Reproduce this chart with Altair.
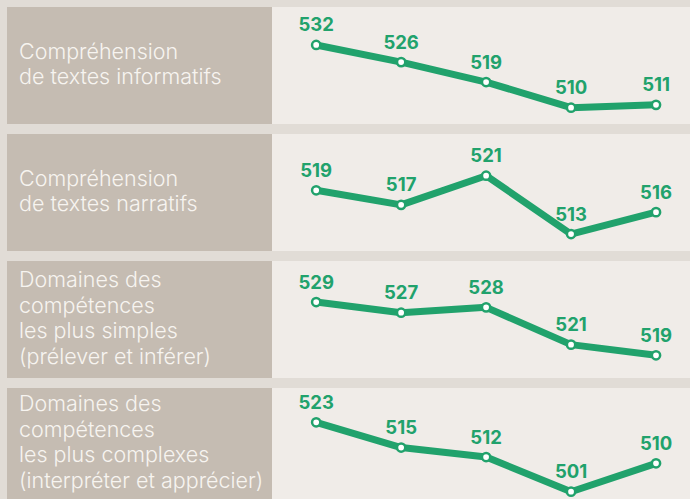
import altair as alt
import pandas as pd

# ---- data ----
categories = [
    "Compréhension\nde textes informatifs",
    "Compréhension\nde textes narratifs",
    "Domaines des\ncompétences\nles plus simples\n(prélever et inférer)",
    "Domaines des\ncompétences\nles plus complexes\n(interpréter et apprécier)",
]
years = [2001, 2006, 2011, 2016, 2021]
scores_informatifs = [532, 526, 519, 510, 511]
scores_narratifs = [519, 517, 521, 513, 516]
scores_simples = [529, 527, 528, 521, 519]
scores_complexes = [523, 515, 512, 501, 510]

series = [scores_informatifs, scores_narratifs, scores_simples, scores_complexes]

# ---- style ----
GREEN = "#21a26c"
LABEL_BG = "#c5bcb2"
PANEL_BG = "#f0ece8"
PAGE_BG = "#e1dcd6"
TEXT_LIGHT = "#f7f4f0"
LINE_H = 25.6

row_heights = [117, 117, 117, 111]
y_domains = [[504.28, 545.33], [510.67, 526.72], [514.74, 536.7], [498.69, 533.87]]
x_domain = [1998.4, 2023.0]

panels = []
for cat, vals, h, dom in zip(categories, series, row_heights, y_domains):
    n_lines = cat.count("\n") + 1
    lab_df = pd.DataFrame({"label": [cat]})
    label = (
        alt.Chart(lab_df)
        .mark_text(
            align="left",
            baseline="middle",
            lineBreak="\n",
            lineHeight=LINE_H,
            font="Inter",
            fontWeight=300,
            fontSize=21.5,
            color=TEXT_LIGHT,
        )
        .encode(x=alt.value(12), y=alt.value(h / 2 - (n_lines - 1) * LINE_H / 2), text="label:N")
        .properties(width=265, height=h, view=alt.ViewBackground(fill=LABEL_BG, strokeWidth=0))
    )

    df = pd.DataFrame({"year": years, "score": vals})
    base = alt.Chart(df).encode(
        x=alt.X("year:Q", scale=alt.Scale(domain=x_domain, nice=False, zero=False), axis=None),
        y=alt.Y("score:Q", scale=alt.Scale(domain=dom, nice=False, zero=False), axis=None),
    )
    line = base.mark_line(color=GREEN, strokeWidth=7, strokeJoin="round")
    pts = base.mark_point(filled=True, fill="white", stroke=GREEN, strokeWidth=2.5, size=68, opacity=1, shape="circle")
    txt = base.mark_text(
        baseline="alphabetic", dy=-13.5, font="Inter", fontWeight="bold", fontSize=18.5, color=GREEN
    ).encode(text="score:Q")
    plot = alt.layer(line, pts, txt).properties(
        width=418, height=h, view=alt.ViewBackground(fill=PANEL_BG, strokeWidth=0)
    )
    panels.extend([label, plot])

chart = (
    alt.concat(*panels, columns=2, spacing=alt.RowColnumber(row=10, column=0), bounds="flush")
    .properties(
        background=PAGE_BG,
        padding={"left": 7, "top": 7, "right": 0, "bottom": 0},
    )
    .configure_view(strokeWidth=0)
)

chart.save("out.html", embed_options={"renderer": "svg", "actions": False})
